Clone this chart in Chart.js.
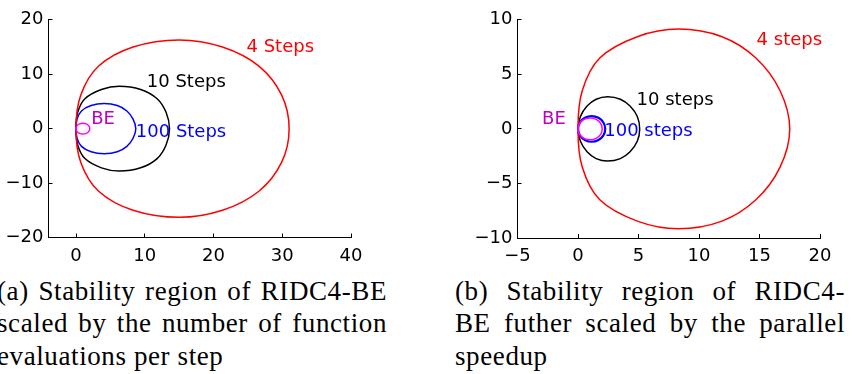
<!DOCTYPE html>
<html>
<head>
<meta charset="utf-8">
<script src="https://cdn.jsdelivr.net/npm/chart.js@4.4.1/dist/chart.umd.min.js"></script>
<style>
  body { margin: 0; background: #fff; width: 858px; height: 374px; overflow: hidden; position: relative; }
  canvas { position: absolute; top: 0; }
  #chartA { left: 0; }
  #chartB { left: 430px; }
  .caption {
    position: absolute; top: 275px; width: 390px;
    font-family: "Liberation Serif", serif; font-size: 27px; line-height: 32.3px;
    letter-spacing: 0.6px; color: #000;
  }
  .caption div { white-space: nowrap; text-align: justify; text-align-last: justify; }
  .caption div.last { text-align-last: left; }
  #capA { left: -3px; }
  #capB { left: 455px; }
</style>
</head>
<body>
<canvas id="chartA" width="430" height="268"></canvas>
<canvas id="chartB" width="428" height="268"></canvas>

<div class="caption" id="capA">
  <div>(a) Stability region of RIDC4-BE</div>
  <div>scaled by the number of function</div>
  <div class="last">evaluations per step</div>
</div>
<div class="caption" id="capB">
  <div>(b) Stability region of RIDC4-</div>
  <div>BE futher scaled by the parallel</div>
  <div class="last">speedup</div>
</div>

<script>
// boundary curves, each a closed loop (last point joins back to the first)

// ---- (a) stability regions scaled by function evaluations ----
const a4X = [31.0, 29.9, 26.6, 21.3, 15.0, 8.3, 3.3, 0.7, 0, 0.7, 3.3, 8.3, 15.0, 21.3, 26.6, 29.9];
const a4Y = [0, 6.2, 11.5, 15.0, 16.3, 15.0, 11.5, 6.2, 0, -6.2, -11.5, -15.0, -16.3, -15.0, -11.5, -6.2];
const a10X = [13.6, 13.1, 11.8, 9.4, 6.3, 3.7, 1.3, 0.25, 0, 0.25, 1.3, 3.7, 6.3, 9.4, 11.8, 13.1];
const a10Y = [0, 3.0, 5.5, 7.2, 7.8, 7.2, 5.5, 3.0, 0, -3.0, -5.5, -7.2, -7.8, -7.2, -5.5, -3.0];
const a100X = [8.7, 8.3, 7.4, 6.0, 4.1, 2.2, 0.8, 0.15, 0, 0.15, 0.8, 2.2, 4.1, 6.0, 7.4, 8.3];
const a100Y = [0, 1.76, 3.25, 4.25, 4.6, 4.25, 3.25, 1.76, 0, -1.76, -3.25, -4.25, -4.6, -4.25, -3.25, -1.76];

// ---- (b) further scaled by the parallel speedup ----
const b4X = [17.5, 16.7, 14.7, 11.9, 8.3, 4.9, 1.8, 0.35, 0, 0.35, 1.8, 4.9, 8.3, 11.9, 14.7, 16.7];
const b4Y = [0, 3.5, 6.5, 8.45, 9.15, 8.45, 6.5, 3.5, 0, -3.5, -6.5, -8.45, -9.15, -8.45, -6.5, -3.5];
const b10X = [5.1, 4.9, 4.3, 3.5, 2.45, 1.5, 0.75, 0.2, 0, 0.2, 0.75, 1.5, 2.45, 3.5, 4.3, 4.9];
const b10Y = [0, 1.13, 2.09, 2.72, 2.95, 2.72, 2.09, 1.13, 0, -1.13, -2.09, -2.72, -2.95, -2.72, -2.09, -1.13];
const b100X = [2.25, 2.1, 1.69, 1.13, 0.57, 0.16, 0.01, 0.16, 0.57, 1.13, 1.69, 2.1];
const b100Y = [0, 0.59, 1.02, 1.18, 1.02, 0.59, 0, -0.59, -1.02, -1.18, -1.02, -0.59];

// backward Euler boundary, same in both panels
const beX = [2, 1.87, 1.5, 1, 0.5, 0.13, 0, 0.13, 0.5, 1, 1.5, 1.87];
const beY = [0, 0.5, 0.87, 1, 0.87, 0.5, 0, -0.5, -0.87, -1, -0.87, -0.5];

// text labels: [text, x, y]
const labelsA = [["4 Steps", 24.8, 15.0], ["10 Steps", 10.3, 8.5], ["BE", 2.2, 1.8], ["100 Steps", 8.7, -0.65]];
const labelsB = [["4 steps", 14.76, 8.1], ["10 steps", 4.84, 2.64], ["BE", -2.97, 0.9], ["100 steps", 2.17, -0.24]];

const RED = "#ff0000", BLACK = "#000000", BLUE = "#0000ff", MAGENTA = "#ff00ff", BE_TEXT = "#bf00bf";
const FONT = { family: "'DejaVu Sans', sans-serif", size: 18 };

// wrap the loop: one extra point on each end so every visible joint gets a smooth spline
function loopPoints(xs, ys) {
    const pts = xs.map((x, i) => ({ x: x, y: ys[i] }));
    const n = pts.length;
    return [pts[n - 1]].concat(pts, [pts[0], pts[1]]);
}

function fmtTick(v) {
    return v < 0 ? "\u2212" + Math.abs(v) : String(v);
}

function curve(xs, ys, color, width) {
    const data = loopPoints(xs, ys);
    const lastIdx = data.length - 1;
    return {
        data: data,
        showLine: true,
        borderColor: color,
        borderWidth: width,
        pointRadius: 0,
        tension: 0.35,
        fill: false,
        segment: {
            // the two padding segments stay hidden
            borderColor: ctx => (ctx.p0DataIndex === 0 || ctx.p1DataIndex === lastIdx) ? "rgba(0,0,0,0)" : undefined
        }
    };
}

// draws the curve names at data coordinates
const labelPlugin = {
    id: "curveLabels",
    afterDatasetsDraw(chart, args, opts) {
        const ctx = chart.ctx;
        ctx.save();
        ctx.font = FONT.size + "px " + FONT.family;
        ctx.textBaseline = "middle";
        ctx.textAlign = "left";
        opts.items.forEach((it, i) => {
            ctx.fillStyle = opts.colors[i];
            ctx.fillText(it[0], chart.scales.x.getPixelForValue(it[1]), chart.scales.y.getPixelForValue(it[2]));
        });
        ctx.restore();
    }
};

function axis(min, max, step, fitFn) {
    return {
        type: "linear",
        min: min,
        max: max,
        ticks: { stepSize: step, includeBounds: false, autoSkip: false, maxRotation: 0, color: "#000", font: FONT, padding: 9, callback: fmtTick },
        grid: { drawOnChartArea: false, drawTicks: true, tickLength: -4, color: "#000", lineWidth: 1 },
        border: { display: true, color: "#000", width: 1 },
        afterFit: fitFn
    };
}

function makeChart(id, datasets, xr, yr, yWidth, xHeight, pad, labels) {
    const x = axis(xr[0], xr[1], xr[2], s => { s.height = xHeight; });
    x.ticks.padding = 12;
    const y = axis(yr[0], yr[1], yr[2], s => { s.width = yWidth; });
    return new Chart(document.getElementById(id), {
        type: "scatter",
        data: { datasets: datasets },
        options: {
            responsive: false,
            animation: false,
            layout: { padding: pad },
            scales: { x: x, y: y },
            plugins: {
                legend: { display: false },
                tooltip: { enabled: false },
                curveLabels: { items: labels, colors: [RED, BLACK, BE_TEXT, BLUE] }
            }
        },
        plugins: [labelPlugin]
    });
}

makeChart("chartA", [
    curve(beX, beY, MAGENTA, 1.5),
    curve(a4X, a4Y, RED, 1.5),
    curve(a100X, a100Y, BLUE, 1.5),
    curve(a10X, a10Y, BLACK, 1.5)
], [-4, 40, 10], [-20, 20, 10], 48.5, 30.5, { left: 0, top: 11, right: 79, bottom: 0 }, labelsA);

makeChart("chartB", [
    curve(beX, beY, MAGENTA, 1.5),
    curve(b4X, b4Y, RED, 1.5),
    curve(b100X, b100Y, BLUE, 2.2),
    curve(b10X, b10Y, BLACK, 1.5)
], [-5, 20, 5], [-10, 10, 5], 87.5, 30, { left: 0, top: 15, right: 38, bottom: 0 }, labelsB);
</script>
</body>
</html>
